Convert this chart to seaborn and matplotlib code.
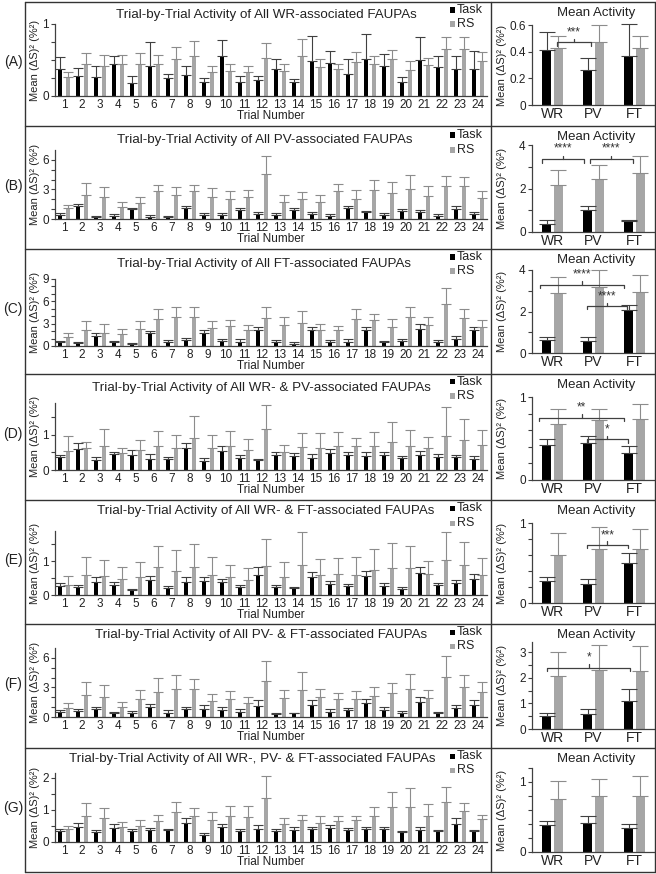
import numpy as np
import pandas as pd
import matplotlib
matplotlib.use("Agg")
import matplotlib.pyplot as plt
from matplotlib.lines import Line2D
from matplotlib.patches import Rectangle
from matplotlib.ticker import FixedLocator, FuncFormatter
import seaborn as sns

sns.set_theme(style="white")
plt.rcParams["font.family"] = ["Liberation Sans", "DejaVu Sans"]

# ---------------- data ----------------
trial_labels = [str(i) for i in range(1, 25)]
conditions = ["WR", "PV", "FT"]
series_names = ["Task", "RS"]
panel_tags = ["(A)", "(B)", "(C)", "(D)", "(E)", "(F)", "(G)"]
panel_titles = [
    "Trial-by-Trial Activity of All WR-associated FAUPAs",
    "Trial-by-Trial Activity of All PV-associated FAUPAs",
    "Trial-by-Trial Activity of All FT-associated FAUPAs",
    "Trial-by-Trial Activity of All WR- & PV-associated FAUPAs",
    "Trial-by-Trial Activity of All WR- & FT-associated FAUPAs",
    "Trial-by-Trial Activity of All PV- & FT-associated FAUPAs",
    "Trial-by-Trial Activity of All WR-, PV- & FT-associated FAUPAs",
]
right_title = "Mean Activity"
y_label = "Mean (ΔS)² (%²)"
x_label = "Trial Number"

# trial-level means and upper error-bar ends
A_task = [0.37,0.28,0.27,0.45,0.18,0.41,0.25,0.29,0.19,0.55,0.20,0.22,0.38,0.19,0.49,0.46,0.31,0.51,0.41,0.19,0.50,0.40,0.38,0.38]
A_task_hi = [0.54,0.39,0.41,0.55,0.28,0.75,0.31,0.41,0.25,0.78,0.28,0.28,0.51,0.24,0.83,0.62,0.51,0.86,0.59,0.27,0.82,0.56,0.55,0.63]
A_rs = [0.26,0.45,0.42,0.45,0.45,0.45,0.52,0.56,0.33,0.35,0.34,0.53,0.35,0.55,0.40,0.37,0.47,0.45,0.52,0.36,0.43,0.65,0.65,0.49]
A_rs_hi = [0.33,0.60,0.57,0.57,0.60,0.57,0.68,0.77,0.41,0.45,0.42,0.73,0.45,0.79,0.51,0.45,0.61,0.55,0.64,0.49,0.53,0.82,0.82,0.61]

B_task = [0.45,1.3,0.25,0.35,1.0,0.25,0.25,1.1,0.45,0.45,0.9,0.55,0.45,0.9,0.55,0.35,1.1,0.7,0.45,0.8,0.7,0.35,1.0,0.5]
B_task_hi = [0.65,1.55,0.3,0.55,1.15,0.4,0.35,1.35,0.6,0.6,1.1,0.7,0.6,1.1,0.7,0.55,1.35,0.85,0.65,1.05,0.95,0.55,1.3,0.7]
B_rs = [1.1,2.4,2.2,1.2,1.6,2.8,2.4,2.8,2.2,2.0,2.2,4.6,1.7,2.0,1.7,2.8,2.0,2.9,2.6,3.0,2.3,3.3,3.3,2.1]
B_rs_hi = [1.45,3.7,3.2,1.7,2.25,3.5,3.25,3.45,3.1,2.85,2.9,6.4,2.45,2.75,2.45,3.6,2.95,4.0,3.8,4.45,3.35,4.4,4.3,2.85]

C_task = [0.5,0.4,1.4,0.5,0.3,1.7,0.6,0.8,1.8,0.7,0.6,2.1,0.6,0.3,2.1,0.6,0.6,2.2,0.5,0.7,2.3,0.6,1.0,2.2]
C_task_hi = [0.7,0.6,1.7,0.7,0.4,2.0,0.8,1.1,2.1,1.0,0.9,2.5,0.8,0.5,2.5,0.8,0.9,2.6,0.7,0.9,2.9,0.8,1.3,2.6]
C_rs = [1.2,2.2,1.8,1.6,2.3,3.6,3.9,3.9,2.4,2.7,2.1,3.8,2.8,3.1,2.1,2.1,3.6,3.5,2.5,3.9,2.8,5.6,3.7,2.5]
C_rs_hi = [1.8,3.4,2.9,2.3,3.3,5.0,5.3,5.2,3.3,3.5,2.8,5.2,3.9,4.7,3.0,2.7,5.0,4.3,3.6,5.2,3.9,7.8,5.0,3.5]

D_task = [0.36,0.6,0.29,0.45,0.43,0.31,0.32,0.62,0.25,0.55,0.33,0.27,0.43,0.4,0.33,0.48,0.42,0.4,0.42,0.33,0.43,0.36,0.38,0.3]
D_task_hi = [0.43,0.76,0.36,0.52,0.57,0.46,0.38,0.76,0.33,0.67,0.43,0.32,0.5,0.48,0.45,0.59,0.52,0.52,0.5,0.4,0.54,0.45,0.43,0.4]
D_rs = [0.55,0.62,0.69,0.48,0.57,0.69,0.62,0.9,0.62,0.67,0.57,1.16,0.52,0.65,0.62,0.69,0.67,0.67,0.78,0.67,0.62,0.97,0.86,0.71]
D_rs_hi = [0.97,0.78,1.16,0.61,0.86,1.1,1.0,1.52,1.0,1.1,0.88,1.83,0.71,1.05,1.05,1.09,0.9,1.08,1.35,1.14,0.95,1.79,1.45,1.14]

E_task = [0.28,0.24,0.4,0.3,0.14,0.45,0.22,0.38,0.43,0.39,0.24,0.6,0.25,0.2,0.52,0.33,0.27,0.56,0.28,0.18,0.66,0.29,0.35,0.47]
E_task_hi = [0.35,0.3,0.52,0.38,0.19,0.57,0.27,0.52,0.52,0.48,0.31,0.83,0.31,0.25,0.67,0.42,0.33,0.72,0.35,0.25,0.84,0.36,0.46,0.63]
E_rs = [0.3,0.6,0.55,0.47,0.53,0.82,0.72,0.82,0.6,0.52,0.44,0.87,0.53,0.9,0.6,0.62,0.6,0.74,0.8,0.8,0.62,1.05,0.88,0.6]
E_rs_hi = [0.55,1.12,1.05,0.82,0.97,1.44,1.35,1.52,1.13,0.9,0.8,1.65,0.98,1.87,1.08,1.1,1.12,1.37,1.53,1.45,1.02,1.88,1.56,1.1]

F_task = [0.55,0.65,0.8,0.4,0.45,1.0,0.45,0.8,0.8,0.7,0.55,1.15,0.3,0.4,1.25,0.55,0.7,1.45,0.7,0.45,1.5,0.45,0.9,1.25]
F_task_hi = [0.7,0.8,1.05,0.55,0.6,1.3,0.7,1.05,1.2,1.0,0.8,1.7,0.4,0.45,1.75,0.8,0.95,1.85,1.05,0.6,2.05,0.55,1.2,1.75]
F_rs = [0.95,2.2,2.0,1.0,1.8,2.5,2.8,2.8,1.6,1.8,1.4,3.7,1.9,2.75,2.0,1.8,1.8,2.1,2.4,2.85,1.95,4.1,3.0,2.5]
F_rs_hi = [1.4,3.55,3.2,1.5,2.75,4.0,4.25,3.9,2.3,2.65,2.05,5.65,2.75,4.55,2.85,2.4,2.65,3.0,3.5,4.35,2.75,6.2,4.25,3.55]

G_task = [0.34,0.48,0.32,0.45,0.35,0.37,0.36,0.6,0.21,0.48,0.35,0.4,0.34,0.37,0.4,0.45,0.37,0.4,0.4,0.3,0.37,0.33,0.55,0.33]
G_task_hi = [0.42,0.6,0.38,0.55,0.42,0.43,0.42,0.74,0.27,0.56,0.42,0.52,0.42,0.46,0.46,0.53,0.44,0.47,0.47,0.35,0.46,0.38,0.74,0.38]
G_rs = [0.42,0.82,0.75,0.48,0.5,0.65,0.92,0.82,0.7,0.8,0.78,1.36,0.57,0.68,0.6,0.65,0.67,0.82,1.1,1.1,0.8,1.25,0.98,0.72]
G_rs_hi = [0.5,1.2,1.05,0.62,0.68,0.85,1.26,1.05,0.92,1.12,1.12,2.05,0.76,0.84,0.82,0.82,0.8,1.1,1.57,1.68,1.17,1.72,1.22,0.85]

# condition means (WR, PV, FT) and upper error-bar ends
A_mean_task = [0.41,0.26,0.37];  A_mean_task_hi = [0.545,0.355,0.605]
A_mean_rs = [0.43,0.475,0.43];   A_mean_rs_hi = [0.52,0.60,0.52]
B_mean_task = [0.39,1.0,0.52];   B_mean_task_hi = [0.53,1.2,0.57]
B_mean_rs = [2.16,2.45,2.7];     B_mean_rs_hi = [2.85,3.1,3.5]
C_mean_task = [0.61,0.6,2.05];   C_mean_task_hi = [0.76,0.76,2.29]
C_mean_rs = [2.9,3.18,2.94];     C_mean_rs_hi = [3.68,4.0,3.74]
D_mean_task = [0.42,0.45,0.33];  D_mean_task_hi = [0.49,0.53,0.41]
D_mean_rs = [0.67,0.72,0.74];    D_mean_rs_hi = [0.85,0.86,0.91]
E_mean_task = [0.28,0.24,0.5];   E_mean_task_hi = [0.33,0.30,0.63]
E_mean_rs = [0.6,0.68,0.67];     E_mean_rs_hi = [0.875,0.95,0.92]
F_mean_task = [0.5,0.58,1.1];    F_mean_task_hi = [0.64,0.77,1.55]
F_mean_rs = [2.08,2.3,2.26];     F_mean_rs_hi = [3.0,3.3,3.25]
G_mean_task = [0.39,0.41,0.34];  G_mean_task_hi = [0.45,0.51,0.40]
G_mean_rs = [0.76,0.8,0.8];      G_mean_rs_hi = [1.02,1.05,1.08]

# significance brackets: (x from, x to, height, label) in category units
A_sig = [(0.1, 0.95, 0.47, "***")]
B_sig = [(-0.26, 0.77, 3.34, "****"), (0.91, 1.96, 3.34, "****")]
C_sig = [(-0.3, 1.74, 3.3, "****"), (0.84, 1.82, 2.26, "****")]
D_sig = [(-0.33, 1.75, 0.75, "**"), (0.83, 1.85, 0.49, "*")]
E_sig = [(0.83, 1.85, 0.73, "***")]
F_sig = [(-0.13, 1.9, 2.4, "*")]
G_sig = []

trial_task = [A_task, B_task, C_task, D_task, E_task, F_task, G_task]
trial_task_hi = [A_task_hi, B_task_hi, C_task_hi, D_task_hi, E_task_hi, F_task_hi, G_task_hi]
trial_rs = [A_rs, B_rs, C_rs, D_rs, E_rs, F_rs, G_rs]
trial_rs_hi = [A_rs_hi, B_rs_hi, C_rs_hi, D_rs_hi, E_rs_hi, F_rs_hi, G_rs_hi]
mean_task = [A_mean_task, B_mean_task, C_mean_task, D_mean_task, E_mean_task, F_mean_task, G_mean_task]
mean_task_hi = [A_mean_task_hi, B_mean_task_hi, C_mean_task_hi, D_mean_task_hi, E_mean_task_hi, F_mean_task_hi, G_mean_task_hi]
mean_rs = [A_mean_rs, B_mean_rs, C_mean_rs, D_mean_rs, E_mean_rs, F_mean_rs, G_mean_rs]
mean_rs_hi = [A_mean_rs_hi, B_mean_rs_hi, C_mean_rs_hi, D_mean_rs_hi, E_mean_rs_hi, F_mean_rs_hi, G_mean_rs_hi]
sigs = [A_sig, B_sig, C_sig, D_sig, E_sig, F_sig, G_sig]

# ---------------- layout (pixels) ----------------
W, H = 656, 874
BOX_TOPS = [2, 126, 249, 374, 500, 624, 748]
BOX_BOTTOM = 872
BOX_LEFT, BOX_MID, BOX_RIGHT = 25, 491, 655
LEFT_X = (55, 487)
RIGHT_X = (532, 655)
LEFT_Y = [(24, 96), (150, 219), (279, 346), (403, 470), (531, 595), (648, 717), (773, 842)]
LEFT_YMAX = [1.0, 7, 9, 1.9, 1.9, 7, 2.15]
LEFT_MAJOR = [[0, 1], [0, 3, 6], [0, 3, 6, 9], [0, 1], [0, 1], [0, 3, 6], [0, 1, 2]]
LEFT_MINOR = [[0.25, 0.5, 0.75], [1, 2, 4, 5], [1, 2, 4, 5, 7, 8], [0.5, 1.5], [0.5, 1.5], [1, 2, 4, 5], [0.5, 1.5]]
RIGHT_Y = [(25, 105), (145, 232), (270, 353), (397, 480), (523, 603), (642, 729), (768, 852)]
RIGHT_YMAX = [0.6, 4, 4, 1.0, 1.0, 3.4, 1.2]
RIGHT_MAJOR = [[0, 0.2, 0.4, 0.6], [0, 2, 4], [0, 2, 4], [0, 1], [0, 1], [0, 1, 2, 3], [0, 1]]
RIGHT_MINOR = [[], [1, 3], [1, 3], [0.2, 0.4, 0.6, 0.8], [0.2, 0.4, 0.6, 0.8],
               [0.5, 1.5, 2.5], [0.2, 0.4, 0.6, 0.8, 1.2]]
TITLE_X = [266, 265, 264, 261, 266, 261, 252]
TITLE_DY = [13, 14, 15, 14, 11, 11, 11]
LEG_DY = [(8, 22), (9, 24), (8, 22), (8, 22), (8, 23), (8, 22), (8, 22)]

BLACK, GRAY = "#000000", "#a6a6a6"
palette = {"Task": BLACK, "RS": GRAY}
ERR_COLORS = {"Task": "#404040", "RS": "#8c8c8c"}
AXIS_COLOR = "#404040"
TXT = "#222222"
FS = 8.5

fig = plt.figure(figsize=(W / 100, H / 100), dpi=100)


def add_ax(l, t, r, b):
    return fig.add_axes([l / W, 1 - b / H, (r - l) / W, (b - t) / H])


def ftext(x, y, s, **kw):
    fig.text(x / W, 1 - y / H, s, **kw)


def fline(xs, ys, **kw):
    fig.add_artist(Line2D([x / W for x in xs], [1 - y / H for y in ys],
                          transform=fig.transFigure, **kw))


def style_axis(ax, ymax, major, minor, xlabelsize):
    ax.set_ylim(0, ymax)
    ax.yaxis.set_major_locator(FixedLocator(major))
    ax.yaxis.set_minor_locator(FixedLocator(minor))
    ax.yaxis.set_major_formatter(FuncFormatter(lambda v, p: f"{v:g}"))
    for s in ["top", "right"]:
        ax.spines[s].set_visible(False)
    for s in ["left", "bottom"]:
        ax.spines[s].set_color(AXIS_COLOR)
        ax.spines[s].set_linewidth(0.9)
    ax.tick_params(axis="y", which="both", left=True, direction="out", length=3,
                   width=0.8, color=AXIS_COLOR, pad=1.5, labelsize=FS, labelcolor=TXT)
    ax.tick_params(axis="x", which="both", bottom=False, length=0, pad=2,
                   labelsize=xlabelsize, labelcolor=TXT)
    ax.set_ylabel("")
    ax.patch.set_alpha(0)


def add_errorbars(ax, his, cap):
    for name, container, hi in zip(series_names, ax.containers, his):
        xs, ys, ups = [], [], []
        for bar in container:
            xc = bar.get_x() + bar.get_width() / 2
            idx = int(round(xc))
            xs.append(xc)
            ys.append(bar.get_height())
            ups.append(hi[idx] - bar.get_height())
        eb = ax.errorbar(xs, ys, yerr=[np.zeros(len(ups)), ups], fmt="none",
                         ecolor=ERR_COLORS[name], elinewidth=0.8, capsize=cap,
                         capthick=0.8, zorder=1)
        for art in list(eb.lines[1]) + list(eb.lines[2]):
            art.set_clip_on(False)


for i in range(7):
    top = BOX_TOPS[i]
    # ---- left: trial by trial ----
    lt, lb = LEFT_Y[i]
    ax = add_ax(LEFT_X[0], lt, LEFT_X[1], lb)
    df = pd.DataFrame({
        "trial": trial_labels * 2,
        "series": ["Task"] * 24 + ["RS"] * 24,
        "value": list(trial_task[i]) + list(trial_rs[i]),
    })
    sns.barplot(data=df, x="trial", y="value", hue="series", order=trial_labels,
                hue_order=series_names, palette=palette, width=0.78, gap=0.43,
                saturation=1, errorbar=None, legend=False, linewidth=0, ax=ax)
    add_errorbars(ax, [trial_task_hi[i], trial_rs_hi[i]], cap=3.5)
    ax.set_xlim(-0.5, 23.5)
    style_axis(ax, LEFT_YMAX[i], LEFT_MAJOR[i], LEFT_MINOR[i], FS)
    ax.set_xlabel(x_label, fontsize=FS, labelpad=-0.5, color=TXT)

    ftext(TITLE_X[i], top + TITLE_DY[i], panel_titles[i], ha="center", va="center",
          fontsize=9.6, color=TXT)
    ftext(35, (lt + lb) / 2, y_label, rotation=90, ha="center", va="center",
          fontsize=8, color=TXT)
    ftext(13, top + 60, panel_tags[i], ha="center", va="center", fontsize=10,
          color=TXT)
    # legend
    for (name, col), dy in zip(palette.items(), LEG_DY[i]):
        fig.add_artist(Rectangle((450 / W, 1 - (top + dy + 2.5) / H), 5 / W, 5 / H,
                                 transform=fig.transFigure, color=col, lw=0))
        ftext(457, top + dy, name, ha="left", va="center", fontsize=9, color=TXT)

    # ---- right: mean activity ----
    rt, rb = RIGHT_Y[i]
    axr = add_ax(RIGHT_X[0], rt, RIGHT_X[1], rb)
    dfm = pd.DataFrame({
        "cond": conditions * 2,
        "series": ["Task"] * 3 + ["RS"] * 3,
        "value": list(mean_task[i]) + list(mean_rs[i]),
    })
    sns.barplot(data=dfm, x="cond", y="value", hue="series", order=conditions,
                hue_order=series_names, palette=palette, width=0.585, gap=0.25,
                saturation=1, errorbar=None, legend=False, linewidth=0, ax=axr)
    add_errorbars(axr, [mean_task_hi[i], mean_rs_hi[i]], cap=5.5)
    axr.set_xlim(-0.5, 2.5)
    style_axis(axr, RIGHT_YMAX[i], RIGHT_MAJOR[i], RIGHT_MINOR[i], 10)
    axr.tick_params(axis="x", pad=1.5)
    axr.set_xlabel("")
    ymax = RIGHT_YMAX[i]
    h = 0.04 * ymax
    for (x1, x2, yb, lab) in sigs[i]:
        xm = (x1 + x2) / 2
        axr.plot([x1, x1, x2, x2], [yb - h, yb, yb, yb - h], color="#404040", lw=0.9,
                 clip_on=False, zorder=5)
        axr.plot([xm, xm], [yb, yb + h], color="#404040", lw=0.9, clip_on=False, zorder=5)
        axr.text(xm, yb + 0.12 * ymax, lab, ha="center", va="center", fontsize=8.5,
                 color="#333333", clip_on=False, zorder=6)
    ftext(596, top + 11, right_title, ha="center", va="center", fontsize=9.5,
          color=TXT)
    ftext(502, (rt + rb) / 2, y_label, rotation=90, ha="center", va="center",
          fontsize=8, color=TXT)

# ---- frame grid ----
lw_box = 1.0
for y in BOX_TOPS + [BOX_BOTTOM]:
    fline([BOX_LEFT, BOX_RIGHT], [y, y], color="#333333", lw=lw_box)
for x in [BOX_LEFT, BOX_MID, BOX_RIGHT]:
    fline([x, x], [BOX_TOPS[0], BOX_BOTTOM], color="#333333", lw=lw_box)

fig.savefig("out.png", dpi=100, facecolor="white")
